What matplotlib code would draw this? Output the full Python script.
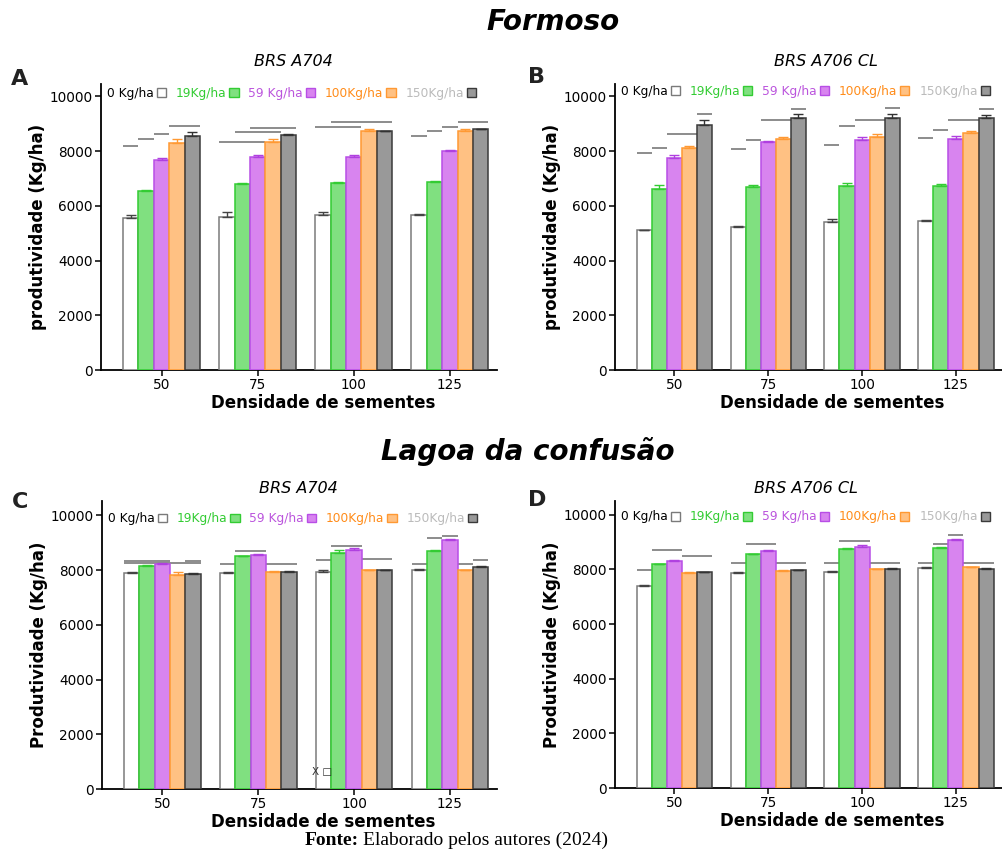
import matplotlib
matplotlib.use("Agg")
import matplotlib.pyplot as plt
import matplotlib.transforms as mtransforms
from matplotlib.patches import Patch
import numpy as np

plt.rcParams['font.family'] = ['DejaVu Sans']

# ---------------- data ----------------
densities = ['50', '75', '100', '125']
doses = ['0 Kg/ha', '19Kg/ha', '59 Kg/ha', '100Kg/ha', '150Kg/ha']

# Panel A  (Formoso, BRS A704)
A_0 = [5540, 5600, 5660, 5670]
A_19 = [6550, 6780, 6840, 6880]
A_59 = [7660, 7775, 7780, 7990]
A_100 = [8300, 8320, 8720, 8720]
A_150 = [8540, 8590, 8720, 8790]
A_err = [[120, 155, 120, 40], [20, 70, 30, 40], [90, 75, 60, 50],
         [155, 110, 75, 75], [150, 35, 30, 25]]
# Panel B  (Formoso, BRS A706 CL)
B_0 = [5110, 5230, 5400, 5460]
B_19 = [6620, 6700, 6715, 6730]
B_59 = [7760, 8320, 8410, 8430]
B_100 = [8115, 8455, 8520, 8665]
B_150 = [8960, 9190, 9215, 9215]
B_err = [[20, 20, 120, 20], [145, 60, 135, 50], [100, 60, 110, 110],
         [60, 45, 120, 75], [160, 160, 150, 115]]
# Panel C  (Lagoa da confusão, BRS A704)
C_0 = [7900, 7900, 7940, 8010]
C_19 = [8170, 8510, 8630, 8705]
C_59 = [8240, 8560, 8750, 9095]
C_100 = [7840, 7940, 7990, 7990]
C_150 = [7865, 7940, 8000, 8120]
C_err = [[40, 20, 60, 20], [20, 20, 110, 20], [30, 20, 60, 45],
         [110, 20, 20, 20], [20, 20, 20, 20]]
# Panel D  (Lagoa da confusão, BRS A706 CL)
D_0 = [7400, 7880, 7920, 8060]
D_19 = [8190, 8555, 8740, 8775]
D_59 = [8300, 8680, 8825, 9060]
D_100 = [7850, 7940, 8010, 8070]
D_150 = [7890, 7965, 8030, 8030]
D_err = [[20, 20, 20, 40], [20, 20, 40, 40], [30, 20, 75, 60],
         [60, 20, 20, 20], [30, 20, 20, 30]]

# significance lines: (density group, first dose, last dose, height)
A_lines = [(0, 0, 0, 8175), (0, 1, 1, 8440), (0, 2, 2, 8640), (0, 3, 4, 8920),
           (1, 0, 2, 8330), (1, 1, 3, 8680), (1, 2, 4, 8840),
           (2, 0, 2, 8890), (2, 1, 4, 9050),
           (3, 0, 0, 8560), (3, 1, 1, 8720), (3, 2, 2, 8870), (3, 3, 4, 9050)]
B_lines = [(0, 0, 0, 7930), (0, 1, 1, 8115), (0, 2, 3, 8630), (0, 4, 4, 9340),
           (1, 0, 0, 8060), (1, 1, 1, 8420), (1, 2, 3, 9120), (1, 4, 4, 9550),
           (2, 0, 0, 8235), (2, 1, 1, 8910), (2, 2, 3, 9120), (2, 4, 4, 9570),
           (3, 0, 0, 8480), (3, 1, 1, 8760), (3, 2, 3, 9120), (3, 4, 4, 9550)]
C_lines = [(0, 0, 2, 8350), (0, 0, 3, 8270), (0, 4, 4, 8350), (0, 4, 4, 8280),
           (1, 1, 2, 8705), (1, 0, 4, 8215),
           (2, 0, 0, 8390), (2, 1, 2, 8900), (2, 3, 4, 8400),
           (3, 0, 0, 8215), (3, 1, 1, 9170), (3, 2, 2, 9255), (3, 3, 3, 8215),
           (3, 4, 4, 8390)]
D_lines = [(0, 0, 0, 7975), (0, 1, 2, 8715), (0, 3, 4, 8505),
           (1, 1, 2, 8925), (1, 0, 4, 8215),
           (2, 1, 2, 9045), (2, 0, 4, 8230),
           (3, 1, 1, 8935), (3, 2, 2, 9245), (3, 0, 4, 8215)]

# ---------------- style ----------------
face = ['#ffffff', '#80e080', '#d884ef', '#ffc183', '#999999']
edge = ['#7a7a7a', '#33cc33', '#b84ee6', '#ff9933', '#3a3a3a']
errc = ['#444444', '#33cc33', '#b040e0', '#ff9933', '#333333']
legtxt = ['#000000', '#33cc33', '#bb55dd', '#ff8c1a', '#bbbbbb']
sig_color = '#8c8c8c'

W, H = 1003, 855
fig = plt.figure(figsize=(W / 100, H / 100), dpi=100)


def px_axes(l, t, r, b):
    return fig.add_axes([l / W, 1 - b / H, (r - l) / W, (b - t) / H])


bw = 0.16
x = np.arange(len(densities))


def draw_panel(ax, series, errs, lines, ylab, ytop, leg_y):
    for i, (vals, e) in enumerate(zip(series, errs)):
        xs = x + (i - 2) * bw
        ax.bar(xs, vals, width=bw, color=face[i], edgecolor=edge[i],
               linewidth=1.1, zorder=3)
        ax.errorbar(xs, vals, yerr=[np.zeros(len(e)), e], fmt='none',
                    ecolor=errc[i], elinewidth=1.0, capsize=3.5,
                    capthick=1.0, zorder=4)
    for g, a, b, v in lines:
        x0 = g + (a - 2) * bw - bw / 2
        x1 = g + (b - 2) * bw + bw / 2
        ax.plot([x0, x1], [v, v], color=sig_color, lw=1.4, zorder=2,
                solid_capstyle='butt')
    ax.set_xlim(-0.63, 3.49)
    ax.set_ylim(0, ytop)
    ax.set_yticks([0, 2000, 4000, 6000, 8000, 10000])
    ax.set_xticks(x)
    ax.set_xticklabels(densities)
    for s in ['top', 'right']:
        ax.spines[s].set_visible(False)
    for s in ['left', 'bottom']:
        ax.spines[s].set_linewidth(1.3)
    ax.tick_params(axis='both', length=4, width=1.1, labelsize=9.8, pad=2)
    ax.set_ylabel(ylab, fontsize=12, fontweight='bold', labelpad=2)
    ax.set_xlabel('Densidade de sementes', fontsize=12, fontweight='bold',
                  labelpad=0)
    ax.xaxis.set_label_coords(0.56, -0.085)
    handles = [Patch(facecolor=face[i], edgecolor=edge[i], linewidth=1.0)
               for i in range(5)]
    trans = mtransforms.blended_transform_factory(ax.transAxes, ax.transData)
    leg = ax.legend(handles, doses, ncol=5, markerfirst=False, frameon=False,
                    loc='center left', bbox_to_anchor=(0.015, leg_y),
                    bbox_transform=trans, fontsize=8.8, handlelength=0.75,
                    handleheight=0.75, handletextpad=0.25, columnspacing=0.8,
                    borderpad=0, borderaxespad=0)
    for t, c in zip(leg.get_texts(), legtxt):
        t.set_color(c)


axA = px_axes(101, 84, 497, 370)
axB = px_axes(615, 84, 1002, 370)
axC = px_axes(102, 501, 497, 789)
axD = px_axes(615, 501, 1002, 788)

draw_panel(axA, [A_0, A_19, A_59, A_100, A_150], A_err, A_lines,
           'produtividade (Kg/ha)', 10450, 10120)
draw_panel(axB, [B_0, B_19, B_59, B_100, B_150], B_err, B_lines,
           'produtividade (Kg/ha)', 10450, 10180)
draw_panel(axC, [C_0, C_19, C_59, C_100, C_150], C_err, C_lines,
           'Produtividade (Kg/ha)', 10530, 9880)
draw_panel(axD, [D_0, D_19, D_59, D_100, D_150], D_err, D_lines,
           'Produtividade (Kg/ha)', 10500, 9920)


def ftext(px, py, s, **kw):
    return fig.text(px / W, 1 - py / H, s, **kw)


ftext(553, 22, 'Formoso', fontsize=20, fontweight='bold', fontstyle='italic',
      ha='center', va='center')
ftext(528, 451, 'Lagoa da confusão', fontsize=20, fontweight='bold',
      fontstyle='italic', ha='center', va='center')
ftext(293, 62, 'BRS A704', fontsize=11.5, fontstyle='italic', ha='center', va='center')
ftext(826, 62, 'BRS A706 CL', fontsize=11.5, fontstyle='italic', ha='center', va='center')
ftext(298, 488, 'BRS A704', fontsize=11.5, fontstyle='italic', ha='center', va='center')
ftext(806, 488, 'BRS A706 CL', fontsize=11.5, fontstyle='italic', ha='center', va='center')
for lab, (px, py) in zip('ABCD', [(20, 79), (537, 77), (20, 502), (537, 500)]):
    ftext(px, py, lab, fontsize=16, fontweight='bold', ha='center', va='center',
          color='#222222')
ftext(312, 772, 'X \u25a1', fontsize=7.5, ha='left', va='center', color='#333333')

# source line
t1 = ftext(305, 840, 'Fonte:', fontsize=14, fontweight='bold',
           family='Liberation Serif', ha='left', va='center')
fig.canvas.draw()
bb = t1.get_window_extent()
fig.text(bb.x1 / W + 4 / W, 1 - 840 / H, 'Elaborado pelos autores (2024)',
         fontsize=14, family='Liberation Serif', ha='left', va='center')

fig.savefig('out.png', dpi=100)
